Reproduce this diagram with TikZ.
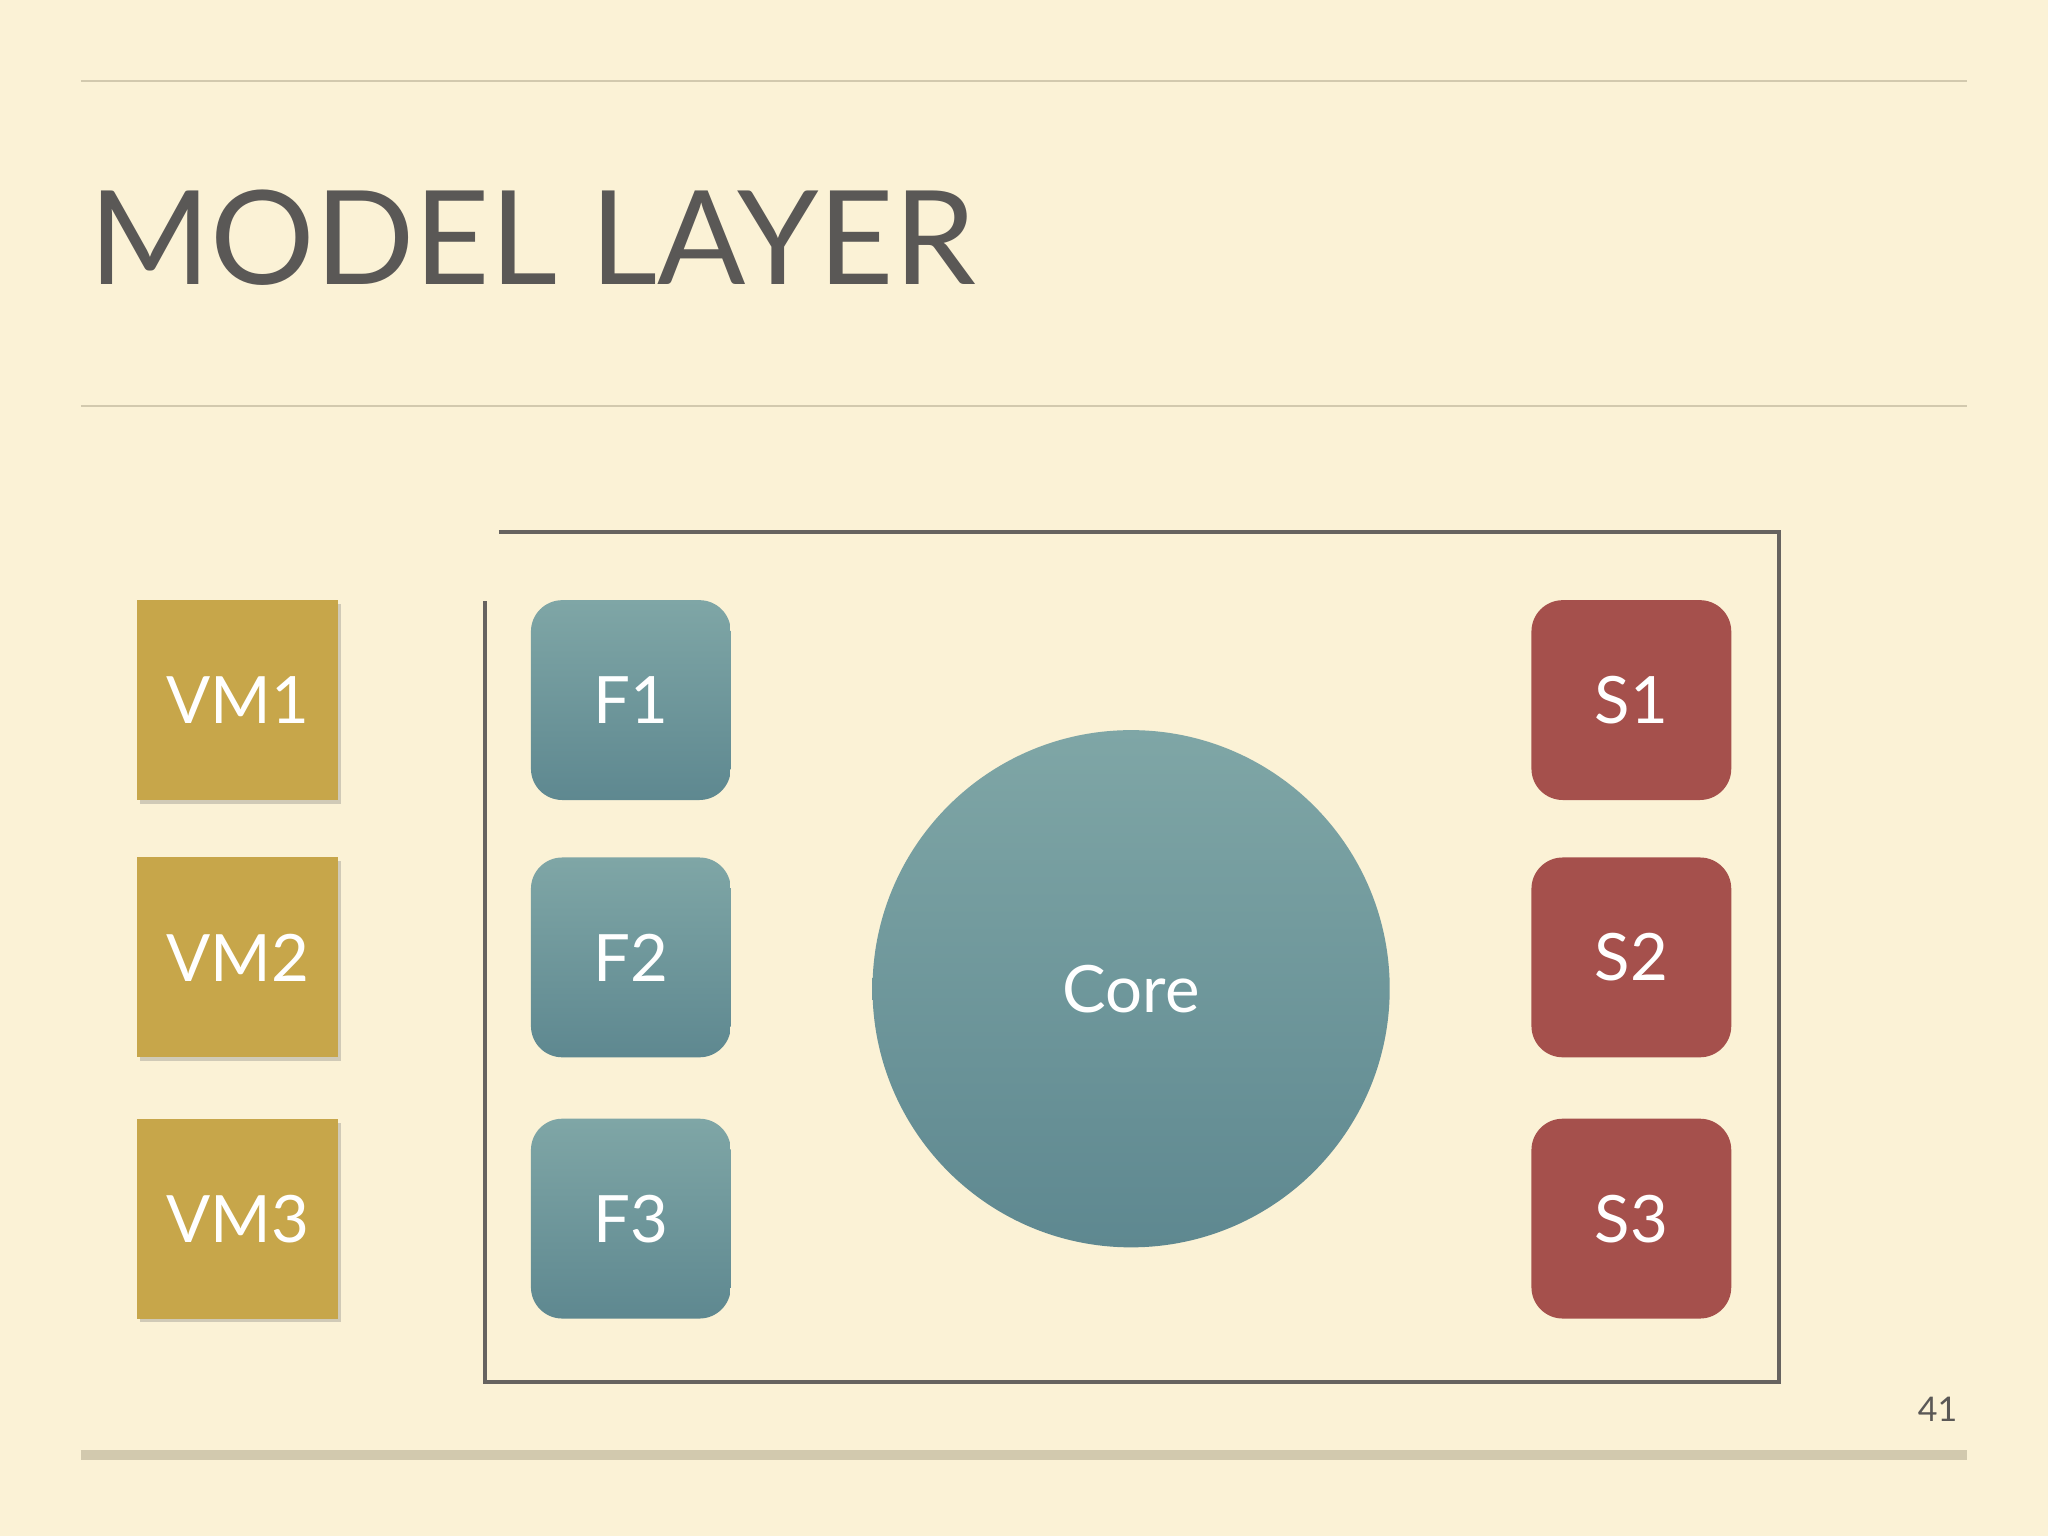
\documentclass[tikz,border=0pt]{standalone}
\usepackage{fontspec}
\setmainfont{Lato}
\usetikzlibrary{shadows}
\definecolor{bg}{HTML}{FBF2D6}
\definecolor{rule}{HTML}{D2C9AE}
\definecolor{vm}{HTML}{C7A64A}
\definecolor{ftop}{HTML}{7FA6A6}
\definecolor{fbot}{HTML}{5E8890}
\definecolor{sred}{HTML}{A5504C}
\definecolor{frame}{HTML}{666360}
\definecolor{titlec}{HTML}{5A5856}
\tikzset{
  lbl/.style={text=white,font=\fontsize{25}{30}\selectfont},
  vmbox/.style={fill=vm,minimum width=77pt,minimum height=76.5pt,inner sep=0pt,drop shadow={opacity=0.35,shadow xshift=1pt,shadow yshift=-1.5pt},lbl},
  fbox/.style={top color=ftop,bottom color=fbot,rounded corners=12pt,minimum width=76.5pt,minimum height=76.5pt,inner sep=0pt,lbl},
  sbox/.style={fill=sred,rounded corners=12pt,minimum width=76.5pt,minimum height=76.5pt,inner sep=0pt,lbl},
}
\begin{document}
\begin{tikzpicture}[x=0.5pt,y=-0.5pt]
\fill[bg] (0,0) rectangle (1568,1176);
\useasboundingbox (0,0) rectangle (1568,1176);
\draw[rule,line width=0.6pt] (62,62) -- (1506,62);
\draw[rule,line width=0.6pt] (62,311) -- (1506,311);
\draw[rule,line width=3.5pt] (62,1114) -- (1506,1114);
\node[anchor=base west,inner sep=0pt,text=titlec,font=\fontsize{50}{60}\selectfont] (title) at (68,218) {MODEL LAYER};
\node[anchor=base east,inner sep=0pt,text=titlec,font=\fontsize{13}{15}\selectfont] (pg) at (1499,1088) {41};
\draw[frame,line width=1.5pt] (382,407) -- (1362,407) -- (1362,1058) -- (371,1058) -- (371,460);
\node[vmbox] (vm1) at (182,536) {VM1};
\node[vmbox] (vm2) at (182,733) {VM2};
\node[vmbox] (vm3) at (182,933) {VM3};
\node[fbox] (f1) at (483,536) {F1};
\node[fbox] (f2) at (483,733) {F2};
\node[fbox] (f3) at (483,933) {F3};
\node[sbox] (s1) at (1249,536) {S1};
\node[sbox] (s2) at (1249,733) {S2};
\node[sbox] (s3) at (1249,933) {S3};
\node[circle,top color=ftop,bottom color=fbot,minimum size=198pt,inner sep=0pt,lbl] (core) at (866,757) {Core};
\end{tikzpicture}
\end{document}
